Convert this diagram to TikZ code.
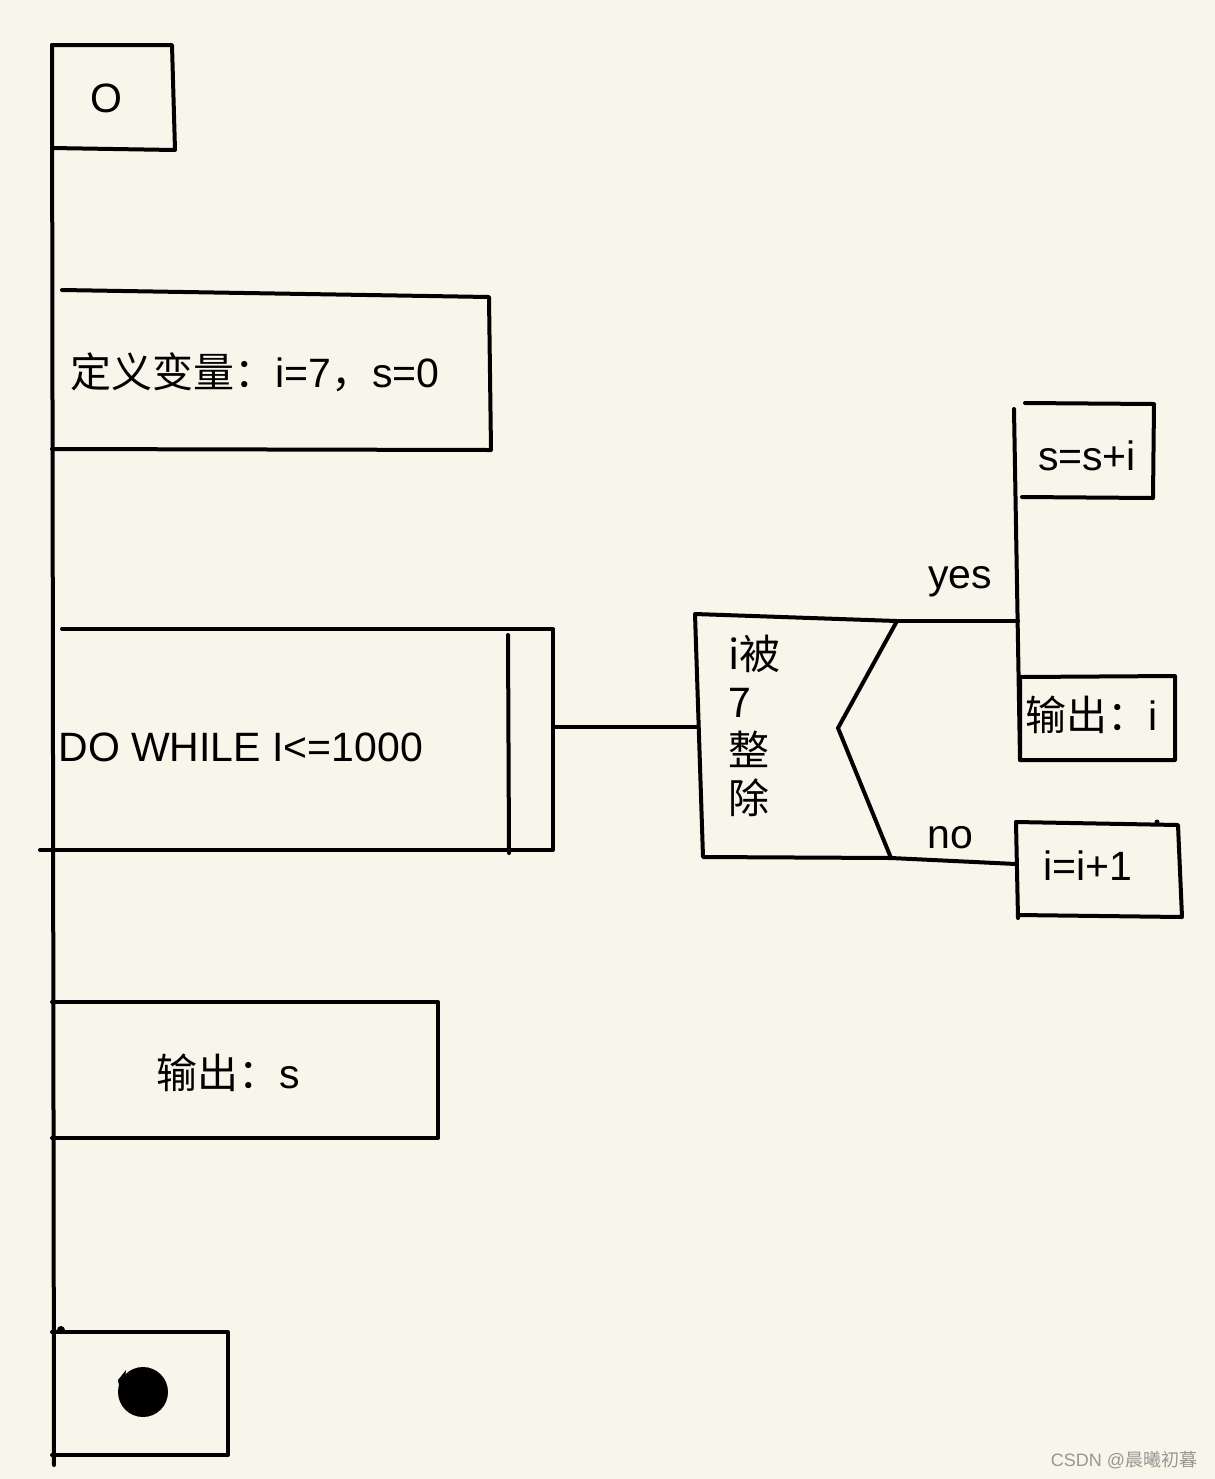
\documentclass[tikz,border=0pt]{standalone}
\usepackage{fontspec}
\setmainfont{Liberation Sans}
\newfontfamily\cjk{Noto Sans CJK SC}
\definecolor{paper}{RGB}{248,246,234}
\definecolor{wm}{RGB}{150,150,150}
\begin{document}
\begin{tikzpicture}[x=0.5pt,y=-0.5pt,
  ln/.style={line width=2pt,line cap=round,line join=round,black},
  txt/.style={font=\fontsize{20.5}{24}\selectfont,inner sep=0pt}]
\fill[paper] (0,0) rectangle (1215,1479);
\useasboundingbox (0,0) rectangle (1215,1479);

% main spine
\coordinate (spT) at (52,45);
\coordinate (spB) at (54,1465);
\draw[ln] (spT) -- (spB);

% start box
\draw[ln] (52,45) -- (172,45) -- (175,150) -- (52,148);
\node[txt] (start) at (106,98) {O};

% define variables box
\draw[ln] (62,290) -- (489,297) -- (491,450) -- (52,449);
\node[txt,anchor=west] (defv) at (70,372) {{\cjk 定义变量：}i=7{\cjk ，}s=0};

% loop box
\draw[ln] (62,629) -- (553,629) -- (553,850) -- (40,850);
\draw[ln] (508,635) -- (509,853);
\node[txt,anchor=west] (loop) at (58,747) {DO WHILE I<=1000};

% connector loop -> decision
\coordinate (loopR) at (555,727);
\coordinate (decL) at (697,727);
\draw[ln] (loopR) -- (decL);

% decision shape
\coordinate (dTL) at (695,614);
\coordinate (dBL) at (703,857);
\coordinate (dTR) at (897,621);
\coordinate (dV) at (838,728);
\coordinate (dBR) at (891,858);
\draw[ln] (dTR) -- (dTL) -- (dBL) -- (dBR);
\draw[ln] (dTR) -- (dV) -- (dBR);
\node[txt,anchor=north west,align=left,font=\fontsize{20.5}{24}\selectfont\cjk] (cond) at (728,635) {i被\\7\\整\\除};

% yes branch
\coordinate (yesR) at (1018,621);
\draw[ln] (dTR) -- (yesR);
\node[txt] (yes) at (960,582) {yes};
\coordinate (vT) at (1014,409);
\coordinate (vB) at (1020,760);
\draw[ln] (vT) -- (vB);

% s=s+i box
\draw[ln] (1025,403) -- (1154,404) -- (1153,498) -- (1022,497);
\node[txt] (ssi) at (1087,456) {s=s+i};

% output i box
\draw[ln] (1020,677) -- (1175,676) -- (1175,760) -- (1020,760) -- cycle;
\node[txt,anchor=west] (outi) at (1025,715) {{\cjk 输出：}i};

% no branch
\coordinate (noR) at (1016,864);
\draw[ln] (dBR) -- (noR);
\node[txt] (no) at (950,838) {no};

% i=i+1 box
\draw[ln] (1016,822) -- (1178,825) -- (1182,917) -- (1018,915);
\draw[ln] (1016,822) -- (1018,918);
\fill (1157,822) circle (2.5);
\node[txt] (inc) at (1088,866) {i=i+1};

% output s box
\draw[ln] (52,1002) -- (438,1002) -- (438,1138) -- (52,1138);
\node[txt] (outs) at (228,1073) {{\cjk 输出：}s};

% end box
\draw[ln] (52,1332) -- (228,1332) -- (228,1455) -- (52,1455);
\fill (61,1330) circle (4);
\node[fill=black,circle,minimum size=25pt,inner sep=0pt] (endmark) at (143,1392) {};
\fill[black] (118,1380) -- (126,1370) -- (122,1402) -- cycle;

% watermark
\node[inner sep=0pt,text=wm,font=\fontsize{9}{11}\selectfont] (wmk) at (1124,1460) {CSDN @{\cjk 晨曦初暮}};
\end{tikzpicture}
\end{document}
